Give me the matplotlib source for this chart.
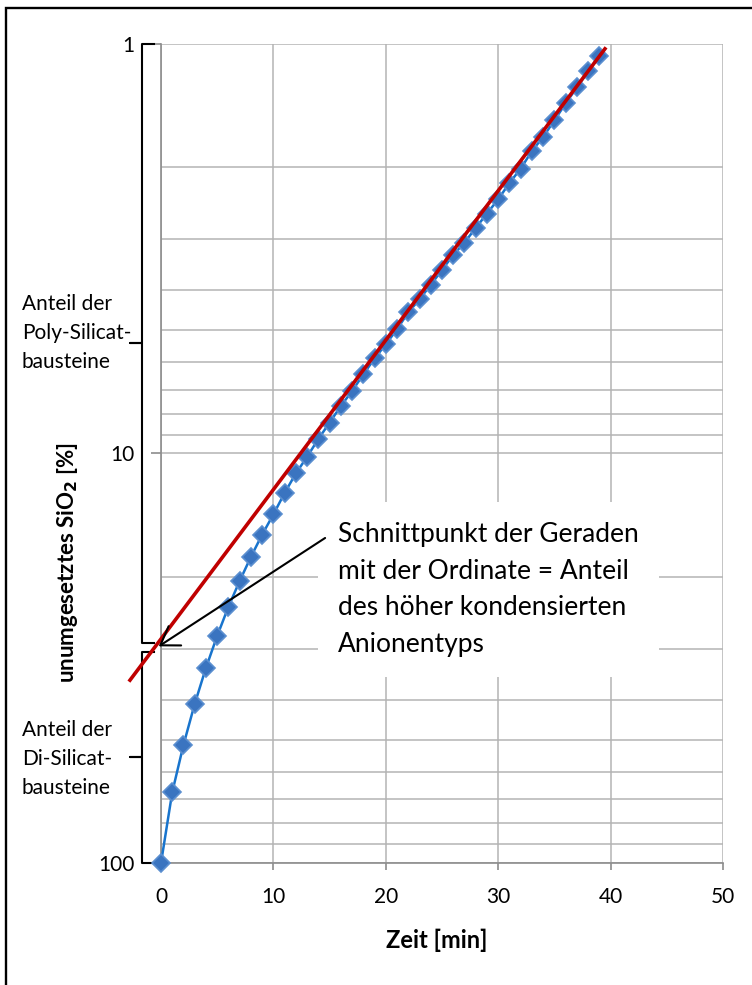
import numpy as np
import matplotlib
matplotlib.use("Agg")
import matplotlib.pyplot as plt
from matplotlib.ticker import FixedLocator, NullFormatter
from matplotlib.patches import Rectangle

plt.rcParams['font.family'] = ['Lato', 'DejaVu Sans']

# time in minutes and unreacted SiO2
zeit = [0, 1, 2, 3, 4, 5, 6, 7, 8, 9, 10, 11, 12, 13, 14, 15, 16, 17, 18, 19,
        20, 21, 22, 23, 24, 25, 26, 27, 28, 29, 30, 31, 32, 33, 34, 35, 36, 37, 38, 39]
sio2 = [100, 67.2, 51.5, 40.9, 33.4, 27.9, 23.7, 20.5, 17.9, 15.8,
        14.1, 12.5, 11.2, 10.2, 9.23, 8.42, 7.67, 7.05, 6.42, 5.87,
        5.42, 4.98, 4.53, 4.21, 3.88, 3.57, 3.28, 3.06, 2.82, 2.60,
        2.40, 2.19, 2.02, 1.83, 1.69, 1.54, 1.40, 1.28, 1.17, 1.07]

# straight line (log scale) through the late points
fit_x = [-2.76, 39.5]
fit_y = [35.8, 1.03]

# where the line meets the ordinate -> split of the two braces
split = 29.6
arrow_from = (14.6, 16.1)
arrow_to = (-0.2, split)

yticks = [1, 10, 100]
yticklabels = ['1', '10', '100']
xticks = [0, 10, 20, 30, 40, 50]

fig = plt.figure(figsize=(7.52, 9.85), dpi=100)
ax = fig.add_axes([0.2141, 0.1239, 0.7473, 0.8319])

grid_c = '#b4b4b4'
ax.plot(zeit, sio2, color='#1874cd', lw=1.8, marker='D', ms=9.5,
        mfc='#3a74c0', mec='#5b8fd0', mew=1.2, zorder=3, clip_on=False)
ax.plot(fit_x, fit_y, color='#c00000', lw=2.6, zorder=4, clip_on=False)

ax.set_yscale('log')
ax.set_ylim(100, 1)
ax.set_xlim(0, 50)
ax.yaxis.set_major_locator(FixedLocator(yticks))
ax.set_yticklabels(yticklabels)
ax.yaxis.set_minor_locator(FixedLocator([2, 3, 4, 5, 6, 7, 8, 9, 20, 30, 40, 50, 60, 70, 80, 90]))
ax.yaxis.set_minor_formatter(NullFormatter())
ax.set_xticks(xticks)
ax.set_xticklabels([str(t) for t in xticks])

ax.grid(True, which='both', color=grid_c, lw=1.1)
ax.set_axisbelow(True)
for s in ['top', 'right']:
    ax.spines[s].set_visible(False)
for s in ['left', 'bottom']:
    ax.spines[s].set_color('#8c8c8c')
    ax.spines[s].set_linewidth(1.2)
ax.tick_params(axis='both', which='major', labelsize=15, color='#8c8c8c', width=1.2)
ax.tick_params(axis='y', which='major', length=7, pad=12)
ax.tick_params(axis='x', which='major', length=5, pad=12)
ax.tick_params(axis='y', which='minor', length=0)

ax.set_xlabel('Zeit [min]', fontsize=17, fontweight='bold')
ax.xaxis.set_label_coords(0.491, -0.094)
ax.xaxis.label.set_va('center')
ax.set_ylabel('unumgesetztes SiO$_\\mathbf{2}$ [%]', fontsize=16, fontweight='bold')
ax.yaxis.label.set_rotation_mode('default')
ax.yaxis.label.set_va('center')
ax.yaxis.set_label_coords(-0.1655, 0.366)

# braces on the left
def brace(y0, y1):
    xv, xh, xt = -1.69, -0.62, -2.76
    ym = np.sqrt(y0 * y1)
    ax.plot([xh, xv, xv, xt, xv, xv, xh], [y0, y0, ym, ym, ym, y1, y1],
            color='black', lw=1.5, clip_on=False, solid_joinstyle='round')

brace(1.0, split / 1.02)
brace(split * 1.03, 100)

fig.text(0.029, 0.662, 'Anteil der\nPoly-Silicat-\nbausteine', fontsize=15,
         ha='left', va='center', linespacing=1.57)
fig.text(0.029, 0.2295, 'Anteil der\nDi-Silicat-\nbausteine', fontsize=15,
         ha='left', va='center', linespacing=1.57)

ax.text(15.75, 21.5, 'Schnittpunkt der Geraden\nmit der Ordinate = Anteil\ndes höher kondensierten\nAnionentyps',
        fontsize=19, ha='left', va='center', linespacing=1.58, zorder=5,
        bbox=dict(boxstyle='square,pad=0.75', fc='white', ec='none'))
ax.annotate('', xy=arrow_to, xytext=arrow_from,
            arrowprops=dict(arrowstyle='->,head_length=0.5,head_width=0.33',
                            color='black', lw=1.5, shrinkA=0, shrinkB=0,
                            mutation_scale=25),
            annotation_clip=False, zorder=6)

# frame around the figure
fig.patches.append(Rectangle((6 / 752, -0.5), 2, 1 - 8 / 985 + 0.5, transform=fig.transFigure,
                             fill=False, ec='black', lw=1.7))

fig.savefig('out.png', dpi=100)
